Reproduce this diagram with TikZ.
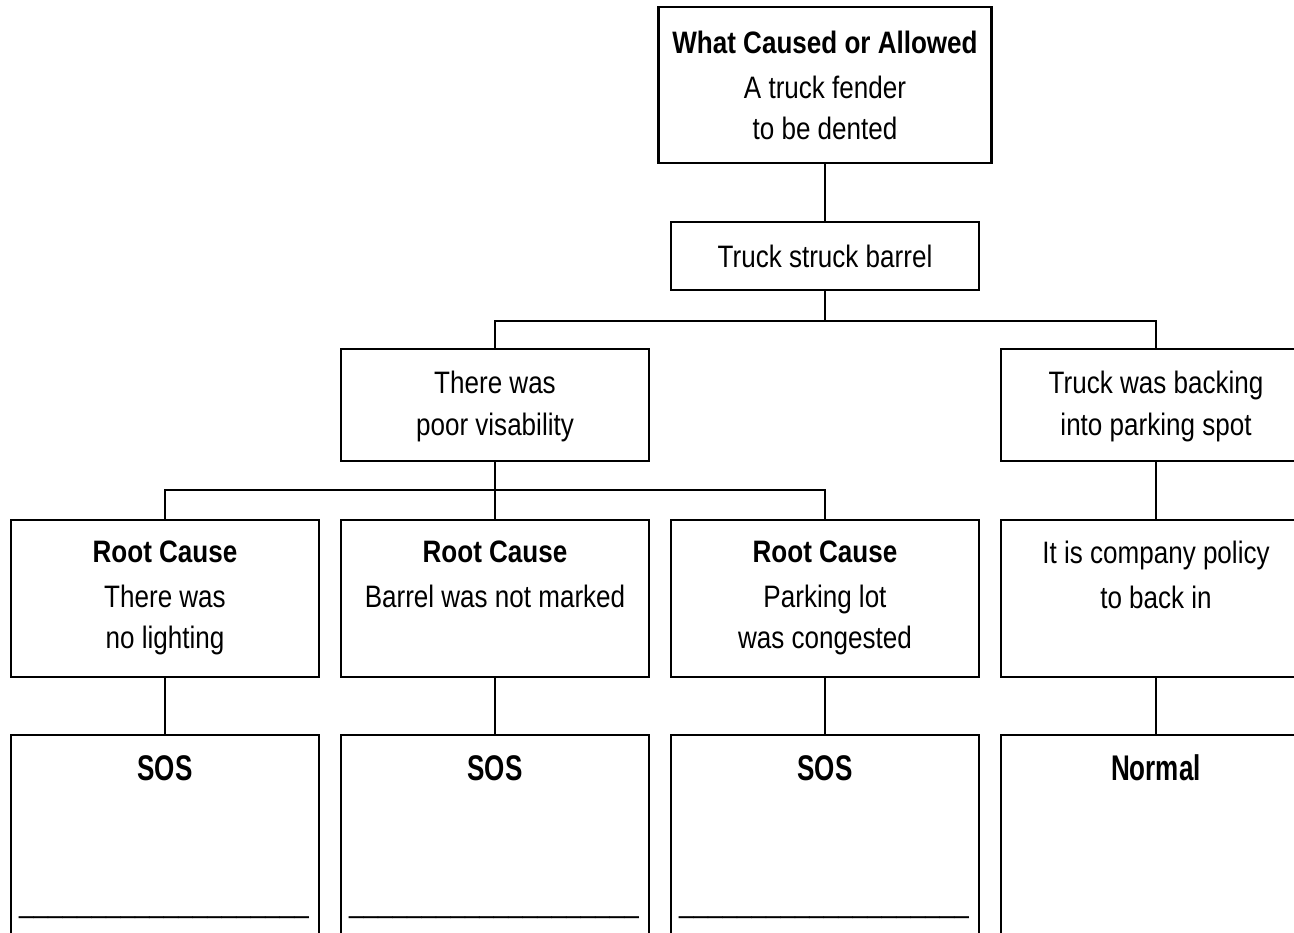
\documentclass[tikz,border=0pt]{standalone}
\usepackage{fontspec}
\usepackage{graphicx}
\setmainfont{Liberation Sans}[FakeStretch=0.84]
\begin{document}
\begin{tikzpicture}[x=1pt,y=-1pt,
  box/.style={draw,line width=2.4pt,minimum width=308pt,inner sep=0pt},
  txt/.style={inner sep=0pt,align=center,font=\fontsize{31}{41}\selectfont},
  conn/.style={line width=1.7pt}]
\useasboundingbox (0,0) rectangle (1294,933);
\clip (0,0) rectangle (1294,933);
% boxes
\node[box,minimum width=333pt,minimum height=156pt] (top) at (825,85) {};
\node[box,minimum height=68pt] (tsb) at (825,256) {};
\node[box,minimum height=112pt] (pv) at (495,405) {};
\node[box,minimum width=310pt,minimum height=112pt] (tb) at (1156,405) {};
\node[box,minimum height=157pt] (r1) at (165,598.5) {};
\node[box,minimum height=157pt] (r2) at (495,598.5) {};
\node[box,minimum height=157pt] (r3) at (825,598.5) {};
\node[box,minimum width=310pt,minimum height=157pt] (r4) at (1156,598.5) {};
\node[box,minimum height=250pt] (s1) at (165,860) {};
\node[box,minimum height=250pt] (s2) at (495,860) {};
\node[box,minimum height=250pt] (s3) at (825,860) {};
\node[box,minimum width=310pt,minimum height=250pt] (s4) at (1156,860) {};
% texts
\node[txt,anchor=north] (ttop) at (825,31) {\textbf{What Caused or Allowed}\\[4pt]A truck fender\\to be dented};
\node[txt] (ttsb) at (tsb) {Truck struck barrel};
\node[txt,anchor=north] (tpv) at (495,371) {There was\\[1pt]poor visability};
\node[txt,anchor=north] (ttb) at (1156,371) {Truck was backing\\[1pt]into parking spot};
\node[txt,anchor=north] (tr1) at (165,541) {\textbf{Root Cause}\\[4pt]There was\\no lighting};
\node[txt,anchor=north] (tr2) at (495,541) {\textbf{Root Cause}\\[4pt]Barrel was not marked};
\node[txt,anchor=north] (tr3) at (825,541) {\textbf{Root Cause}\\[4pt]Parking lot\\was congested};
\node[txt,anchor=north] (tr4) at (1156,541) {It is company policy\\[4pt]to back in};
\node[txt,anchor=base] (ts1) at (165,780) {\scalebox{1}[1.15]{\textbf{SOS}}};
\node[txt,anchor=base] (ts2) at (495,780) {\scalebox{1}[1.15]{\textbf{SOS}}};
\node[txt,anchor=base] (ts3) at (825,780) {\scalebox{1}[1.15]{\textbf{SOS}}};
\node[txt,anchor=base] (ts4) at (1156,780) {\scalebox{1}[1.15]{\textbf{Normal}}};
\node[txt,anchor=base] (u1) at (164,912) {\_\_\_\_\_\_\_\_\_\_\_\_\_\_\_\_\_\_\_\_};
\node[txt,anchor=base] (u2) at (494,912) {\_\_\_\_\_\_\_\_\_\_\_\_\_\_\_\_\_\_\_\_};
\node[txt,anchor=base] (u3) at (824,912) {\_\_\_\_\_\_\_\_\_\_\_\_\_\_\_\_\_\_\_\_};
% connectors
\draw[conn] (top.south) -- (tsb.north);
\draw[conn] (tsb.south) -- ++(0,30) coordinate (j1);
\draw[conn] (pv.north) |- (j1) -| (tb.north);
\draw[conn] (pv.south) -- (r2.north);
\coordinate (j2) at (495,490);
\draw[conn] (r1.north) |- (j2) -| (r3.north);
\draw[conn] (tb.south) -- (r4.north);
\draw[conn] (r1.south) -- (s1.north);
\draw[conn] (r2.south) -- (s2.north);
\draw[conn] (r3.south) -- (s3.north);
\draw[conn] (r4.south) -- (s4.north);
\end{tikzpicture}
\end{document}
